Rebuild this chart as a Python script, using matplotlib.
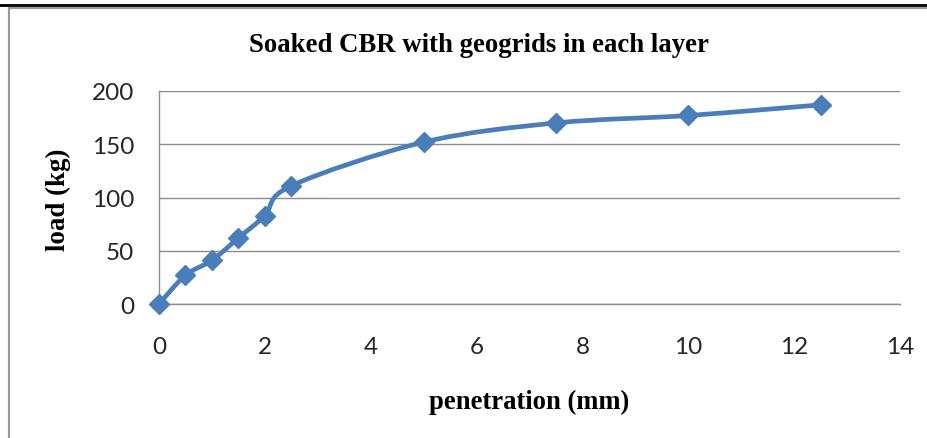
import numpy as np
import matplotlib
matplotlib.use("Agg")
import matplotlib.pyplot as plt
from matplotlib.path import Path
from matplotlib.patches import PathPatch
from matplotlib.lines import Line2D

# данные с графика
penetration = [0, 0.5, 1, 1.5, 2, 2.5, 5, 7.5, 10, 12.5]
load = [0, 27, 41, 62, 83, 111, 152, 170, 177, 187]
x_ticks = [0, 2, 4, 6, 8, 10, 12, 14]
y_ticks = [0, 50, 100, 150, 200]

title = 'Soaked CBR with geogrids in each layer'
x_label = 'penetration (mm)'
y_label = 'load (kg)'

line_color = '#4A7EBB'
grid_color = '#8C8C8C'

fig = plt.figure(figsize=(9.28, 4.39), dpi=100)
ax = fig.add_axes([159 / 928, 134 / 439, 741 / 928, 213 / 439])

# сглаженная линия как в Excel (кривые Безье через точки)
x = np.array(penetration, dtype=float)
y = np.array(load, dtype=float)
n = len(x)
verts = [(x[0], y[0])]
codes = [Path.MOVETO]
for i in range(n - 1):
    p0 = np.array([x[max(i - 1, 0)], y[max(i - 1, 0)]])
    p1 = np.array([x[i], y[i]])
    p2 = np.array([x[i + 1], y[i + 1]])
    p3 = np.array([x[min(i + 2, n - 1)], y[min(i + 2, n - 1)]])
    c1 = p1 + (p2 - p0) / 6
    c2 = p2 - (p3 - p1) / 6
    verts += [tuple(c1), tuple(c2), tuple(p2)]
    codes += [Path.CURVE4] * 3
ax.add_patch(PathPatch(Path(verts, codes), facecolor='none', edgecolor=line_color,
                       lw=3.4, capstyle='round', joinstyle='round', zorder=3))
ax.plot(x, y, linestyle='none', marker='D', ms=10, color=line_color,
        markeredgecolor=line_color, zorder=4, clip_on=False)

ax.set_xlim(0, 14)
ax.set_ylim(0, 200)
ax.set_xticks(x_ticks)
ax.set_yticks(y_ticks)
ax.yaxis.grid(True, color=grid_color, lw=1)
ax.axhline(0, color=grid_color, lw=1, clip_on=False, zorder=1)
ax.set_axisbelow(True)
for s in ['top', 'right', 'bottom']:
    ax.spines[s].set_visible(False)
ax.spines['left'].set_color(grid_color)
ax.spines['left'].set_linewidth(1)
ax.tick_params(length=0, labelsize=17.5, labelcolor='#262626')
for lbl in ax.get_xticklabels() + ax.get_yticklabels():
    lbl.set_fontfamily('Lato')
ax.tick_params(axis='y', pad=18)
ax.tick_params(axis='x', pad=23)

fig.text(479 / 928, 1 - 45 / 439, title, ha='center', va='center',
         family='Liberation Serif', weight='bold', fontsize=19.3)
fig.text(529 / 928, 1 - 402 / 439, x_label, ha='center', va='center',
         family='Liberation Serif', weight='bold', fontsize=19.2)
fig.text(58 / 928, 1 - 200 / 439, y_label, ha='center', va='center', rotation=90,
         family='Liberation Serif', weight='bold', fontsize=19.4)

# рамка
fig.add_artist(Line2D([0, 1], [1 - 5.5 / 439, 1 - 5.5 / 439], color='black', lw=2,
                      transform=fig.transFigure))
fig.add_artist(Line2D([9 / 928, 1], [1 - 9 / 439, 1 - 9 / 439], color='#9A9A9A', lw=1.5,
                      transform=fig.transFigure))
fig.add_artist(Line2D([9 / 928, 9 / 928], [0, 1 - 9 / 439], color='#9A9A9A', lw=1.5,
                      transform=fig.transFigure))

fig.savefig('out.png', dpi=100)
